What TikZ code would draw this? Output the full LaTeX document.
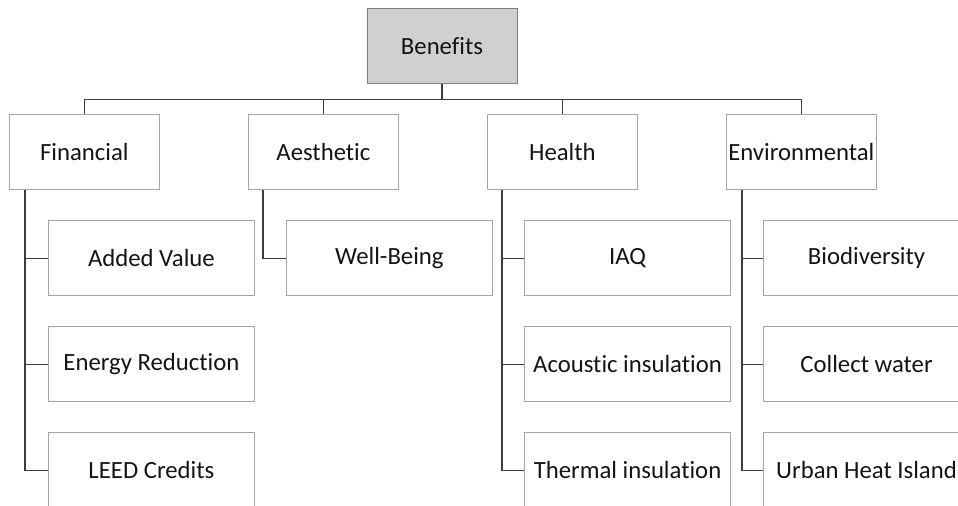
\documentclass[tikz,border=0pt]{standalone}
\usepackage{fontspec}
\setmainfont{Carlito}[Ligatures=NoCommon]
\usetikzlibrary{positioning}
\definecolor{boxgray}{RGB}{165,165,165}
\definecolor{headgray}{RGB}{208,208,208}
\definecolor{headline}{RGB}{128,128,128}
\definecolor{linegray}{RGB}{60,60,60}
\definecolor{textblack}{RGB}{20,20,20}

\begin{document}
\begin{tikzpicture}[% styles used by all boxes, override case-by-case
		every node/.style={
			align=center,		% keeps the text in the middle of the box
			inner sep=0pt,		% box size comes from minimum width/height only
			text=textblack,
			font=\fontsize{17.6}{21}\selectfont
		},
		cat/.style={rectangle,draw=boxgray,line width=0.7pt,fill=white,minimum width=3.75cm,minimum height=1.875cm},
		sub/.style={cat,minimum width=5.15cm},
		link/.style={draw=linegray,line width=1.1pt}
	]
	\useasboundingbox (0,0) rectangle (23.95,-12.65);
	\clip (0,0) rectangle (23.95,-12.65);
	% top and category row
	\node[cat,fill=headgray,draw=headline](Ben) at (11.05,-1.14){Benefits};
	\node[cat](Fin) at (2.11,-3.79){Financial};
	\node[cat](Aes)[right=2.2cm of Fin]{Aesthetic};
	\node[cat](Hea)[right=2.2cm of Aes]{Health};
	\node[cat](Env)[right=2.2cm of Hea]{Environmental};
	% sub boxes
	\node[sub](Fin1)[below right=0.77cm and 0.975cm of Fin.south west]{Added Value};
	\node[sub](Fin2)[below=0.75cm of Fin1]{Energy Reduction};
	\node[sub](Fin3)[below=0.75cm of Fin2]{LEED Credits};
	\node[sub](Aes1)[below right=0.77cm and 0.95cm of Aes.south west]{Well-Being};
	\node[sub](Hea1)[below right=0.77cm and 0.93cm of Hea.south west]{IAQ};
	\node[sub](Hea2)[below=0.75cm of Hea1]{Acoustic insulation};
	\node[sub](Hea3)[below=0.75cm of Hea2]{Thermal insulation};
	\node[sub](Env1)[below right=0.77cm and 0.93cm of Env.south west]{Biodiversity};
	\node[sub](Env2)[below=0.75cm of Env1]{Collect water};
	\node[sub](Env3)[below=0.75cm of Env2]{Urban Heat Island};
	% connectors
	\coordinate (Bus) at ([yshift=-0.4cm]Ben.south);
	\coordinate (FinX) at ([xshift=0.4cm]Fin.south west);
	\coordinate (AesX) at ([xshift=0.38cm]Aes.south west);
	\coordinate (HeaX) at ([xshift=0.38cm]Hea.south west);
	\coordinate (EnvX) at ([xshift=0.4cm]Env.south west);
	\draw[link] (Ben.south) -- (Bus) -| (Fin.north);
	\draw[link] (Bus) -| (Aes.north);
	\draw[link] (Bus) -| (Hea.north);
	\draw[link] (Bus) -| (Env.north);
	\draw[link] (FinX) |- (Fin1.west) (FinX) |- (Fin2.west) (FinX) |- (Fin3.west);
	\draw[link] (AesX) |- (Aes1.west);
	\draw[link] (HeaX) |- (Hea1.west) (HeaX) |- (Hea2.west) (HeaX) |- (Hea3.west);
	\draw[link] (EnvX) |- (Env1.west) (EnvX) |- (Env2.west) (EnvX) |- (Env3.west);
\end{tikzpicture}
\end{document}
